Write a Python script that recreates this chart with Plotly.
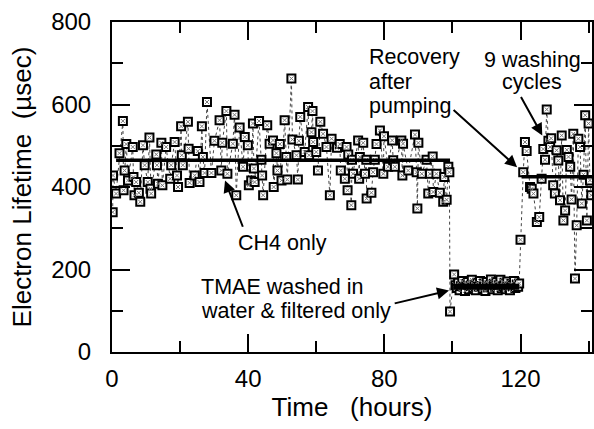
import plotly.graph_objects as go

# ---- data ----
hours = [
    0.2, 0.3, 1.2, 2.2, 3.2, 3.4, 3.7, 4.2, 4.7, 6.1, 6.3, 6.6, 7.1, 7.9, 8.3, 9.1, 9.6,
    10.5, 11.0, 11.3, 11.5, 13.0, 13.2, 13.5, 14.5, 14.8, 15.9, 17.1, 17.4, 18.4, 19.1,
    19.4, 20.3, 20.5, 20.8, 22.3, 22.5, 22.8, 24.3, 25.2, 25.7, 26.4, 26.7, 27.2, 27.9,
    29.2, 30.1, 31.6, 32.1, 32.4, 33.6, 33.9, 35.5, 36.0, 36.5, 37.5, 38.5, 39.0, 39.9,
    40.2, 40.9, 41.4, 41.7, 41.9, 43.2, 43.9, 44.1, 44.4, 45.6, 46.3, 47.3, 47.5, 48.3,
    48.6, 49.3, 49.8, 50.7, 51.2, 51.5, 52.7, 53.0, 54.2, 54.6, 54.9, 55.3, 56.6, 57.6,
    57.9, 58.6, 58.9, 59.1, 60.0, 60.5, 61.2, 62.0, 63.0, 64.0, 64.5, 66.1, 66.9, 67.2,
    68.4, 68.9, 69.2, 69.4, 70.3, 70.5, 70.8, 72.3, 72.6, 72.8, 73.8, 74.3, 74.7, 74.8,
    76.2, 76.7, 77.2, 77.7, 78.7, 79.7, 79.9, 81.1, 82.3, 82.6, 83.1, 85.0, 85.3, 85.5,
    87.0, 89.0, 89.5, 89.7, 90.0, 91.0, 92.4, 92.9, 93.4, 94.2, 94.4, 95.3, 96.3, 97.3,
    97.6, 98.3, 98.8, 99.1, 99.3,
    100.5, 100.9, 101.3, 101.7, 102.1, 102.5, 102.9, 103.3, 103.7, 104.1, 104.5, 104.9,
    105.3, 105.7, 106.1, 106.5, 106.9, 107.3, 107.7, 108.1, 108.5, 108.9, 109.3, 109.7,
    110.1, 110.5, 110.9, 111.3, 111.7, 112.1, 112.5, 112.9, 113.3, 113.7, 114.1, 114.5,
    114.9, 115.3, 115.7, 116.1, 116.5, 116.9, 117.3, 117.7, 118.1, 118.5, 118.9, 119.3,
    119.6,
    120.0, 120.8, 121.3, 121.8, 122.8, 123.3, 123.8, 124.8, 125.5, 126.2, 126.7, 127.2,
    127.7, 128.2, 128.7, 129.0, 129.6, 130.1, 130.6, 131.1, 131.6, 132.1, 132.6, 133.1,
    133.6, 134.1, 134.6, 135.0, 135.5, 136.0, 136.5, 137.0, 137.5, 138.0, 138.5, 139.0,
    139.5, 140.0, 140.4, 140.8,
]
lifetime = [
    339, 428, 384, 482, 560, 392, 440, 504, 416, 497, 424, 380, 412, 386, 364, 501, 453,
    412, 520, 396, 384, 479, 453, 408, 507, 404, 497, 420, 453, 509, 428,
    400, 547, 477, 453, 558, 493, 410, 428, 487, 412, 547, 473, 434, 606,
    434, 512, 562, 440, 507, 584, 432, 505, 575, 380, 544, 449, 521, 501,
    404, 416, 554, 445, 412, 560, 466, 428, 380, 550, 505, 513, 400, 482,
    440, 504, 416, 562, 473, 418, 663, 515, 477, 418, 512, 570, 485, 594,
    477, 533, 584, 509, 485, 440, 558, 529, 497, 380, 517, 495, 504, 440,
    420, 497, 392, 479, 356, 466, 432, 513, 420, 473, 507, 432, 466, 372,
    386, 436, 466, 504, 537, 432, 523, 449, 513, 465, 449, 513, 428, 505,
    440, 527, 436, 348, 507, 432, 466, 384, 432, 474, 388, 432, 386, 364,
    424, 369, 449, 436, 98,
    188, 162, 155, 168, 150, 160, 172, 158, 148, 165, 170, 152,
    160, 175, 155, 163, 150, 168, 158, 172, 160, 153, 166, 148,
    170, 157, 162, 176, 152, 165, 158, 170, 150, 163, 175, 155,
    160, 168, 152, 171, 158, 150, 165, 160, 172, 155, 163, 158,
    166,
    272, 436, 509, 487, 400, 396, 384, 315, 327, 420, 492, 466,
    588, 512, 497, 518, 404, 384, 489, 464, 368, 525, 319, 343,
    490, 473, 449, 370, 529, 178, 307, 517, 497, 360, 430, 574,
    319, 554, 416, 380,
]

# averages for each period
avg_ch4_x = [1.2, 99.3]
avg_ch4_y = [465, 465]
avg_tmae_x = [100.3, 119.6]
avg_tmae_y = [158, 158]
avg_wash_x = [120.3, 141]
avg_wash_y = [425, 425]

FONT = "Liberation Sans, Arial, Helvetica, sans-serif"
NB = "\u00a0"

fig = go.Figure()
# dotted connecting line
fig.add_trace(go.Scatter(
    x=hours, y=lifetime, mode="lines",
    line=dict(color="#444444", width=1, dash="dot"),
    showlegend=False,
))
# square markers with a light cross inside
fig.add_trace(go.Scatter(
    x=hours, y=lifetime, mode="markers",
    marker=dict(symbol="square", size=8, color="white",
                line=dict(color="black", width=2)),
    showlegend=False,
))
fig.add_trace(go.Scatter(
    x=hours, y=lifetime, mode="markers",
    marker=dict(symbol="x-thin-open", size=4, color="#777777",
                line=dict(color="#777777", width=1)),
    showlegend=False, hoverinfo="skip",
))
for ax_, ay_, w in [(avg_ch4_x, avg_ch4_y, 3.5), (avg_tmae_x, avg_tmae_y, 6),
                    (avg_wash_x, avg_wash_y, 3.5)]:
    fig.add_trace(go.Scatter(x=ax_, y=ay_, mode="lines",
                             line=dict(color="black", width=w), showlegend=False))

axis_common = dict(
    showline=True, linecolor="black", linewidth=2, mirror="ticks",
    ticks="inside", tickcolor="black", tickwidth=2, ticklen=18,
    showgrid=False, zeroline=False,
    tickfont=dict(family=FONT, size=24, color="black"),
)
fig.update_xaxes(
    range=[0, 141], tickvals=[0, 40, 80, 120],
    minor=dict(tickvals=[20, 60, 100, 140], ticks="inside", ticklen=11,
               tickwidth=2, tickcolor="black"),
    ticklabelstandoff=4,
    title=dict(text=f"Time{NB}{NB}{NB}(hours)", font=dict(family=FONT, size=26, color="black"),
               standoff=2),
    **axis_common,
)
fig.update_yaxes(
    range=[0, 800], tickvals=[0, 200, 400, 600, 800],
    minor=dict(tickvals=[100, 300, 500, 700], ticks="inside", ticklen=11,
               tickwidth=2, tickcolor="black"),
    ticklabelstandoff=14,
    title=dict(text=f"Electron Lifetime{NB}{NB}(\u00b5sec)",
               font=dict(family=FONT, size=26, color="black"), standoff=12),
    **axis_common,
)

afont = dict(family=FONT, size=21.5, color="black")
text_lines = [
    ("Recovery", 75.0, 714, "left"),
    ("after", 75.0, 654, "left"),
    ("pumping", 75.0, 596, "left"),
    ("9 washing", 123.5, 708, "center"),
    ("cycles", 123.5, 654, "center"),
    ("CH4 only", 50.0, 265, "center"),
    ("TMAE washed in", 25.5, 157, "left"),
    ("water & filtered only", 25.5, 99, "left"),
]
annotations = [
    dict(x=x, y=y, text=t, showarrow=False, xanchor=xa, yanchor="middle", font=afont)
    for t, x, y, xa in text_lines
]
arrows = [
    (119.0, 448, 99.9, 590),
    (126.4, 525, 119.9, 622),
    (33.2, 416, 38.6, 300),
    (99.0, 149, 82.6, 117),
]
for hx, hy, tx, ty in arrows:
    annotations.append(dict(x=hx, y=hy, ax=tx, ay=ty, xref="x", yref="y", axref="x", ayref="y",
                            text="", showarrow=True, arrowhead=2, arrowsize=1.2,
                            arrowwidth=2, arrowcolor="black"))

fig.update_layout(
    width=594, height=429,
    margin=dict(l=112, r=2, t=22, b=77, autoexpand=False),
    plot_bgcolor="white", paper_bgcolor="white",
    annotations=annotations,
    showlegend=False,
)
fig.write_html("out.html")
